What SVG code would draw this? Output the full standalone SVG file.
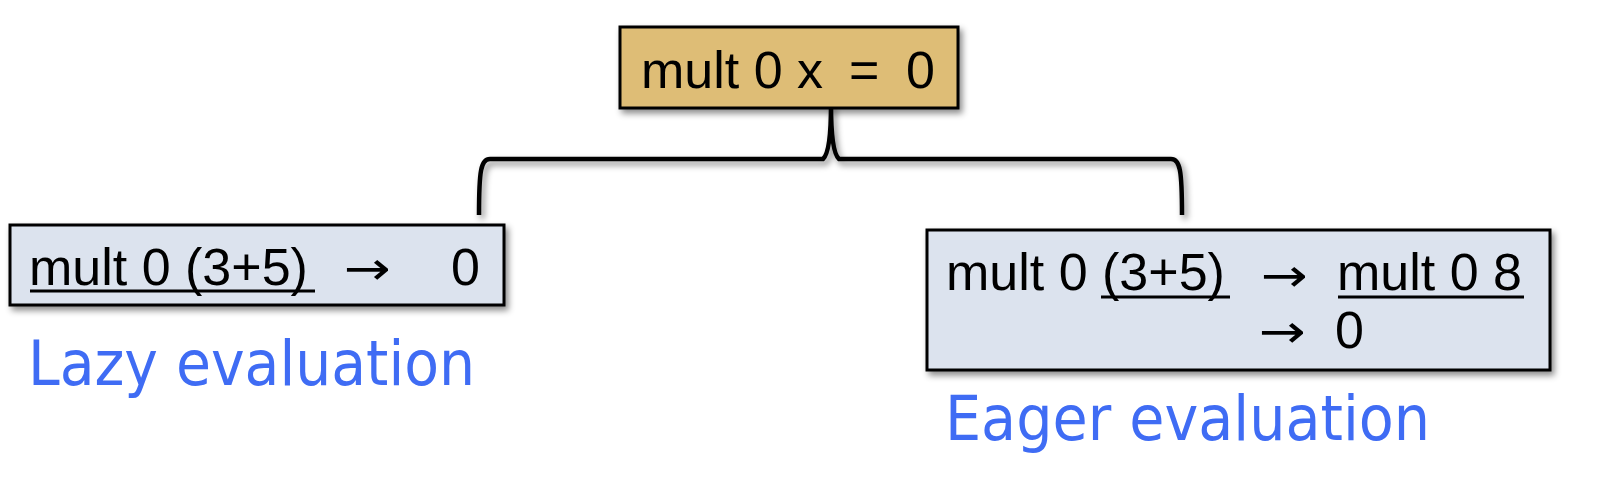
<svg xmlns="http://www.w3.org/2000/svg" width="1600" height="502" viewBox="0 0 1600 502">
<style>
.t{font-family:"Liberation Sans",Arial,sans-serif;font-size:52px;fill:#000}
.a{font-family:"DejaVu Sans","Liberation Sans",sans-serif;font-size:46px;fill:#000}
.lbl{font-family:"DejaVu Sans Condensed","DejaVu Sans",sans-serif;font-stretch:condensed;font-size:62px;fill:#3F6CF4}
.box{stroke:#000;stroke-width:3}
.ul{stroke:#000;stroke-width:3}
</style>
<defs>
<filter id="sh" x="-10%" y="-20%" width="130%" height="160%">
<feDropShadow dx="3" dy="4" stdDeviation="3" flood-color="#000" flood-opacity="0.45"/>
</filter>
</defs>
<rect width="1600" height="502" fill="#fff"/>
<g id="connectors">
<path d="M479,215 C479,170 481,159 490,159 L823,159 Q831,152 831,104 Q831,152 839,159 L1171,159 C1180,159 1182,170 1182,215" fill="none" stroke="#000" stroke-width="4.5" filter="url(#sh)"/>
</g>
<g id="top">
<rect class="box" x="620" y="27" width="338" height="81" fill="#DEBD76" filter="url(#sh)"/>
<text class="t" x="641" y="88">mult 0 x</text>
<text class="t" x="849" y="88">=</text>
<text class="t" x="906" y="88">0</text>
</g>
<g id="lazy">
<rect class="box" x="10" y="225" width="494" height="80" fill="#DCE3EE" filter="url(#sh)"/>
<text class="t" x="29" y="285">mult 0 (3+5)</text>
<line class="ul" x1="30" y1="291" x2="315" y2="291"/>
<text class="a" x="344" y="284" textLength="47" lengthAdjust="spacingAndGlyphs">→</text>
<text class="t" x="451" y="285">0</text>
</g>
<g id="eager">
<rect class="box" x="927" y="230" width="623" height="140" fill="#DCE3EE" filter="url(#sh)"/>
<text class="t" x="946" y="290">mult 0 (3+5)</text>
<line class="ul" x1="1101" y1="297" x2="1230" y2="297"/>
<text class="a" x="1261" y="291" textLength="47" lengthAdjust="spacingAndGlyphs">→</text>
<text class="t" x="1337" y="290">mult 0 8</text>
<line class="ul" x1="1338" y1="297" x2="1524" y2="297"/>
<text class="a" x="1259" y="347" textLength="47" lengthAdjust="spacingAndGlyphs">→</text>
<text class="t" x="1335" y="348">0</text>
</g>
<g id="labels">
<text class="lbl" x="28" y="385" textLength="447" lengthAdjust="spacingAndGlyphs">Lazy evaluation</text>
<text class="lbl" x="945" y="440" textLength="485" lengthAdjust="spacingAndGlyphs">Eager evaluation</text>
</g>
</svg>
